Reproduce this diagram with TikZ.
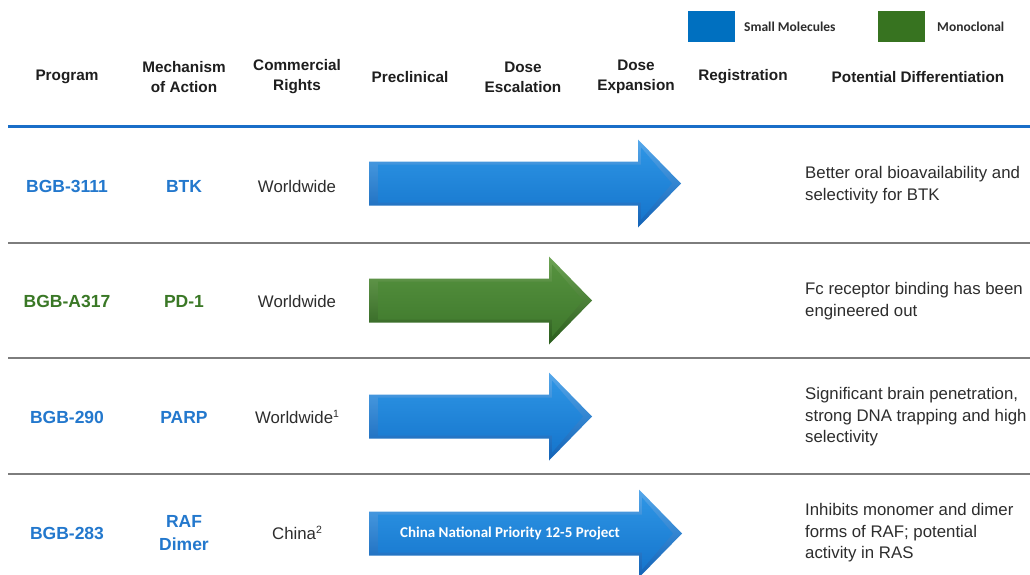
\documentclass[tikz,border=0pt]{standalone}
\usepackage{fontspec}
\setmainfont{Liberation Sans}
\newfontfamily\calfont{Carlito}
\definecolor{txtblue}{RGB}{35,120,205}
\definecolor{txtgreen}{RGB}{58,120,38}
\definecolor{legblue}{RGB}{0,112,192}
\definecolor{leggreen}{RGB}{55,115,32}
\definecolor{rulegray}{RGB}{125,125,125}
\definecolor{ruleblue}{RGB}{25,110,200}
\definecolor{hdrgray}{RGB}{30,30,30}
\definecolor{bodygray}{RGB}{45,45,45}
\definecolor{abtop}{RGB}{85,168,235}
\definecolor{abbot}{RGB}{18,98,182}
\definecolor{abftop}{RGB}{45,148,228}
\definecolor{abfbot}{RGB}{22,118,205}
\definecolor{agtop}{RGB}{110,165,85}
\definecolor{agbot}{RGB}{42,92,28}
\definecolor{agftop}{RGB}{85,145,62}
\definecolor{agfbot}{RGB}{62,120,44}
\newcommand\supnum[1]{\raisebox{6.5pt}{\fontsize{10.5}{11}\selectfont #1}}
\tikzset{
  hdr/.style={font=\fontsize{15.3}{20}\selectfont\bfseries, text=hdrgray, align=center, inner sep=0pt},
  prog/.style={font=\fontsize{17.5}{23}\selectfont\bfseries, align=center, inner sep=0pt},
  rights/.style={font=\fontsize{16.8}{22}\selectfont, text=bodygray, inner sep=0pt},
  diff/.style={font=\fontsize{16.8}{21.5}\selectfont, text=bodygray, align=left, anchor=west, inner sep=0pt},
  legtxt/.style={font=\calfont\fontsize{13.5}{15}\selectfont\bfseries, text=bodygray, anchor=west, inner sep=0pt},
  rowrule/.style={rulegray, line width=1.4pt},
}
% arrow: #1 x0, #2 head start x, #3 tip x, #4 center y, #5 outer top, #6 outer bottom, #7 face top, #8 face bottom
\newcommand\pipearrow[8]{%
  \shade[top color=#5, bottom color=#6]
    (#1,#4-22) -- (#2,#4-22) -- (#2,#4-44) -- (#3,#4) -- (#2,#4+44) -- (#2,#4+22) -- (#1,#4+22) -- cycle;
  \shade[top color=#7, bottom color=#8]
    (#1+9,#4-19) -- (#2+3,#4-19) -- (#2+3,#4-36) -- (#3-9,#4) -- (#2+3,#4+36) -- (#2+3,#4+19) -- (#1+9,#4+19) -- cycle;
}
\begin{document}
\begin{tikzpicture}[x=1pt,y=-1pt]
\useasboundingbox (0,0) rectangle (1030,575);
\fill[white] (0,0) rectangle (1030,575);

% legend
\fill[legblue] (688,11) rectangle (735,42);
\node[legtxt] (lsm) at (744,27) {Small Molecules};
\fill[leggreen] (878,11) rectangle (925,42);
\node[legtxt] (lmo) at (937,27) {Monoclonal};

% headers
\node[hdr] (hprog) at (67,77) {Program};
\node[hdr] (hmech) at (184,77) {Mechanism\\of Action};
\node[hdr] (hcomm) at (297,77) {Commercial\\Rights};
\node[hdr] (hpre) at (410,77) {Preclinical};
\node[hdr] (hesc) at (523,77) {Dose\\Escalation};
\node[hdr] (hexp) at (636,77) {Dose\\Expansion};
\node[hdr] (hreg) at (743,77) {Registration};
\node[hdr] (hdiff) at (918,77) {Potential Differentiation};

% rules
\draw[ruleblue, line width=3pt] (8,127) -- (1030,127);
\draw[rowrule] (8,243) -- (1030,243);
\draw[rowrule] (8,358) -- (1030,358);
\draw[rowrule] (8,474) -- (1030,474);

% arrows
\pipearrow{369}{638}{681}{183.5}{abtop}{abbot}{abftop}{abfbot}
\pipearrow{369}{549}{592}{300.5}{agtop}{agbot}{agftop}{agfbot}
\pipearrow{369}{549}{592}{416.5}{abtop}{abbot}{abftop}{abfbot}
\pipearrow{369}{639}{682}{533.5}{abtop}{abbot}{abftop}{abfbot}
\node[font=\calfont\fontsize{15}{17}\selectfont\bfseries, text=white, inner sep=0pt] (cnp) at (510,533) {China National Priority 12-5 Project};

% row 1
\node[prog, text=txtblue] (p1) at (67,186) {BGB-3111};
\node[prog, text=txtblue] (m1) at (184,186) {BTK};
\node[rights] (r1) at (297,186) {Worldwide};
\node[diff] (d1) at (805,185) {Better oral bioavailability and\\selectivity for BTK};

% row 2
\node[prog, text=txtgreen] (p2) at (67,301) {BGB-A317};
\node[prog, text=txtgreen] (m2) at (184,301) {PD-1};
\node[rights] (r2) at (297,301) {Worldwide};
\node[diff] (d2) at (805,301) {Fc receptor binding has been\\engineered out};

% row 3
\node[prog, text=txtblue] (p3) at (67,417) {BGB-290};
\node[prog, text=txtblue] (m3) at (184,417) {PARP};
\node[rights] (r3) at (297,417) {Worldwide\supnum{1}};
\node[diff] (d3) at (805,417) {Significant brain penetration,\\strong DNA trapping and high\\selectivity};

% row 4
\node[prog, text=txtblue] (p4) at (67,533) {BGB-283};
\node[prog, text=txtblue] (m4) at (184,533) {RAF\\Dimer};
\node[rights] (r4) at (297,533) {China\supnum{2}};
\node[diff] (d4) at (805,533) {Inhibits monomer and dimer\\forms of RAF; potential\\activity in RAS};
\end{tikzpicture}
\end{document}
